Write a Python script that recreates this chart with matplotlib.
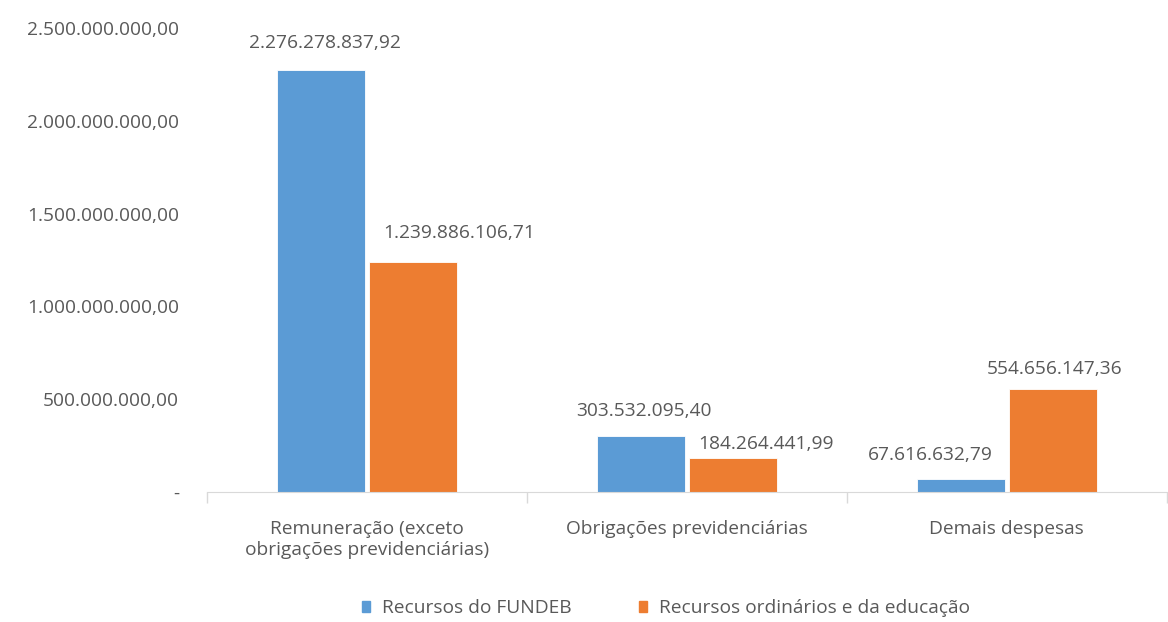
import matplotlib
matplotlib.use("Agg")
import matplotlib.pyplot as plt
import numpy as np
from matplotlib.patches import Patch

plt.rcParams['font.family'] = ['Open Sans', 'DejaVu Sans']

categories = ['Remuneração (exceto\nobrigações previdenciárias)',
              'Obrigações previdenciárias',
              'Demais despesas']
fundeb = [2276278837.92, 303532095.40, 67616632.79]
ordinarios = [1239886106.71, 184264441.99, 554656147.36]
series_names = ['Recursos do FUNDEB', 'Recursos ordinários e da educação']
yticks = [0, 500e6, 1000e6, 1500e6, 2000e6, 2500e6]
ytick_labels = ['-', '500.000.000,00', '1.000.000.000,00', '1.500.000.000,00',
                '2.000.000.000,00', '2.500.000.000,00']

# label offsets (pixels) relative to top-centre of each bar, as in the original
off_fundeb = [(4, 27), (3, 25), (-31, 24)]
off_ord = [(46, 29), (33, 14), (2, 20)]

blue = '#5B9BD5'
orange = '#ED7D31'
grey = '#595959'
fs = 13.8


def fmt(v):
    s = f'{v:,.2f}'
    return s.replace(',', 'X').replace('.', ',').replace('X', '.')


fig = plt.figure(figsize=(11.68, 6.22), dpi=100)
ax = fig.add_axes([0.177, 0.209, 0.822, 0.746])

x = np.arange(len(categories))
w = 0.275
gap = 0.006
b1 = ax.bar(x - w / 2 - gap, fundeb, w, color=blue, edgecolor='white', linewidth=0.6)
b2 = ax.bar(x + w / 2 + gap, ordinarios, w, color=orange, edgecolor='white', linewidth=0.6)

for bars, vals, offs in [(b1, fundeb, off_fundeb), (b2, ordinarios, off_ord)]:
    for r, v, (dx, dy) in zip(bars, vals, offs):
        ax.annotate(fmt(v), (r.get_x() + r.get_width() / 2, r.get_height()),
                    xytext=(dx, dy), textcoords='offset pixels',
                    ha='center', va='center', fontsize=fs, color=grey)

ax.set_xlim(-0.5, 2.5)
ax.set_ylim(0, 2500e6)
ax.set_yticks(yticks)
ax.set_yticklabels(ytick_labels)
ax.set_xticks(x)
ax.set_xticklabels(categories, linespacing=1.25)
ax.set_xticks([-0.5, 0.5, 1.5, 2.5], minor=True)
ax.tick_params(axis='y', length=0, pad=20, labelsize=fs, colors=grey)
ax.tick_params(axis='x', which='major', length=0, pad=20, labelsize=fs, colors=grey)
ax.tick_params(axis='x', which='minor', length=8, color='#d9d9d9', width=1)
for s in ['top', 'right', 'left']:
    ax.spines[s].set_visible(False)
ax.spines['bottom'].set_color('#d9d9d9')

handles = [Patch(color=blue), Patch(color=orange)]
fig.legend(handles, series_names, loc='center', bbox_to_anchor=(0.57, 0.022),
           ncol=2, frameon=False, fontsize=fs, labelcolor=grey,
           handlelength=0.45, handleheight=0.45, handletextpad=0.6, columnspacing=3.5)

fig.savefig('out.png', dpi=100)
